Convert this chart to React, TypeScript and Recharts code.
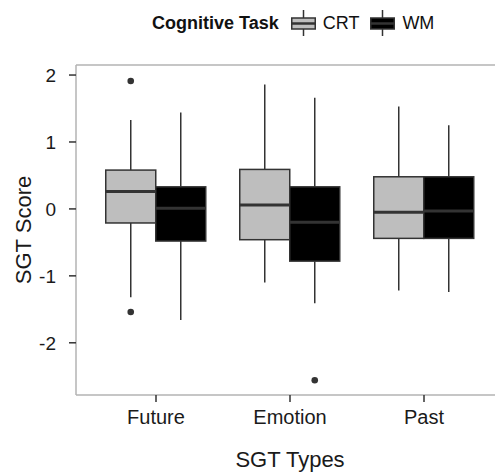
import React from 'react';
import { ComposedChart, Bar, XAxis, YAxis, Legend, ReferenceLine } from 'recharts';

const FONT = '"Liberation Sans", Arial, sans-serif';

// SGT types along the x axis
const sgtTypes = ['Future', 'Emotion', 'Past'];

// five-number summaries per SGT type: [lower whisker, Q1, median, Q3, upper whisker]
const crtBoxes = [
  [-1.32, -0.21, 0.26, 0.58, 1.33],
  [-1.1, -0.46, 0.06, 0.59, 1.86],
  [-1.22, -0.44, -0.05, 0.48, 1.53],
];
const wmBoxes = [
  [-1.66, -0.48, 0.01, 0.33, 1.44],
  [-1.41, -0.78, -0.2, 0.33, 1.66],
  [-1.24, -0.44, -0.03, 0.48, 1.25],
];

// points beyond the whiskers
const crtOutliers = [[1.91, -1.54], [], []];
const wmOutliers = [[], [-2.56], []];

const yTicks = [-2, -1, 0, 1, 2];
const yDomain = [-2.78, 2.15];

const data = sgtTypes.map((type, i) => ({
  type,
  crt: [crtBoxes[i][0], crtBoxes[i][4]],
  wm: [wmBoxes[i][0], wmBoxes[i][4]],
  crtStats: crtBoxes[i],
  wmStats: wmBoxes[i],
  crtOut: crtOutliers[i],
  wmOut: wmOutliers[i],
}));

const LINE = '#333333';
const BORDER = '#b3b3b3';

// Bar spans lower..upper whisker; everything else is placed on the same linear scale
const makeBoxShape = (statsKey: string, outKey: string) => (props: any) => {
  const { x, y, width, height, payload, fill } = props;
  const stats: number[] = payload[statsKey];
  const outs: number[] = payload[outKey];
  const [lo, q1, med, q3, hi] = stats;
  const top = Math.min(y, y + height);
  const bottom = Math.max(y, y + height);
  const toPx = (v: number) => top + ((hi - v) / (hi - lo)) * (bottom - top);
  const cx = x + width / 2;
  return (
    <g>
      <line x1={cx} x2={cx} y1={toPx(hi)} y2={toPx(q3)} stroke={LINE} strokeWidth={1.5} />
      <line x1={cx} x2={cx} y1={toPx(q1)} y2={toPx(lo)} stroke={LINE} strokeWidth={1.5} />
      <rect
        x={x}
        y={toPx(q3)}
        width={width}
        height={toPx(q1) - toPx(q3)}
        fill={fill}
        stroke={LINE}
        strokeWidth={1.5}
      />
      <line x1={x} x2={x + width} y1={toPx(med)} y2={toPx(med)} stroke={LINE} strokeWidth={3} />
      {outs.map((o, k) => (
        <circle key={k} cx={cx} cy={toPx(o)} r={3.3} fill={LINE} />
      ))}
    </g>
  );
};

const renderLegend = (props: any) => {
  const items = props.payload ?? [];
  return (
    <div
      style={{
        display: 'flex',
        alignItems: 'center',
        height: 28,
        marginTop: 9,
        paddingLeft: 152,
        fontFamily: FONT,
        color: '#111',
        fontSize: 18,
      }}
    >
      <span style={{ fontWeight: 'bold', marginRight: 12 }}>Cognitive Task</span>
      {items.map((it: any) => (
        <span key={it.value} style={{ display: 'flex', alignItems: 'center', marginRight: 11 }}>
          <svg width={25} height={28} style={{ display: 'block' }}>
            <line x1={12.5} x2={12.5} y1={1} y2={27} stroke={LINE} strokeWidth={1.5} />
            <rect x={0.75} y={9} width={23.5} height={11} fill={it.color} stroke={LINE} strokeWidth={1.5} />
            <line x1={0.75} x2={24.25} y1={14.5} y2={14.5} stroke={LINE} strokeWidth={2.5} />
          </svg>
          <span style={{ marginLeft: 7 }}>{it.value}</span>
        </span>
      ))}
    </div>
  );
};

export default function App() {
  return (
    <div style={{ position: 'absolute', left: 0, top: 0, width: 495, height: 472, overflow: 'hidden', background: '#fff' }}>
      <ComposedChart
        width={504}
        height={472}
        data={data}
        margin={{ top: 65, right: 0, left: 0, bottom: 0 }}
        barGap={0}
        barCategoryGap="12.5%"
        style={{ fontFamily: FONT }}
      >
        <XAxis
          dataKey="type"
          height={77}
          padding={{ left: 13, right: 13 }}
          axisLine={{ stroke: BORDER, strokeWidth: 1.5 }}
          tickLine={{ stroke: LINE, strokeWidth: 1.5 }}
          tickSize={7}
          tickMargin={8}
          tick={{ fill: '#1a1a1a', fontSize: 20 }}
          label={{ value: 'SGT Types', position: 'insideBottom', offset: 5, fill: '#1a1a1a', fontSize: 22 }}
        />
        <YAxis
          type="number"
          width={76}
          domain={yDomain}
          ticks={yTicks}
          allowDataOverflow
          axisLine={{ stroke: BORDER, strokeWidth: 1.5 }}
          tickLine={{ stroke: LINE, strokeWidth: 1.5 }}
          tickSize={7}
          tickMargin={13}
          tick={{ fill: '#1a1a1a', fontSize: 19 }}
          label={{
            value: 'SGT Score',
            angle: -90,
            position: 'insideLeft',
            offset: 23,
            fill: '#1a1a1a',
            fontSize: 22,
            style: { textAnchor: 'middle' },
          }}
        />
        {/* top edge of the panel */}
        <ReferenceLine y={yDomain[1]} stroke={BORDER} strokeWidth={1.5} />
        <Legend
          layout="horizontal"
          verticalAlign="middle"
          align="center"
          content={renderLegend}
          wrapperStyle={{ top: 0, left: 0, width: 495 }}
        />
        <Bar dataKey="crt" name="CRT" fill="#bebebe" isAnimationActive={false} shape={makeBoxShape('crtStats', 'crtOut')} />
        <Bar dataKey="wm" name="WM" fill="#000000" isAnimationActive={false} shape={makeBoxShape('wmStats', 'wmOut')} />
      </ComposedChart>
    </div>
  );
}
